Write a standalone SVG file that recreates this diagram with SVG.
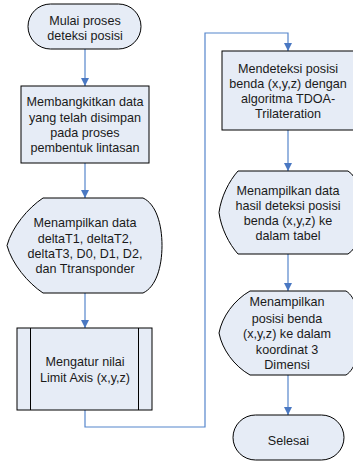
<svg xmlns="http://www.w3.org/2000/svg" width="353" height="462" viewBox="0 0 353 462">
<style>
.shape{fill:#E6ECF6;stroke:#000;stroke-width:1}
.inner{fill:none;stroke:#000;stroke-width:1}
.conn{fill:none;stroke:#5585CC;stroke-width:1.2}
text{font-family:"Liberation Sans",Arial,sans-serif;font-size:12.6px;fill:#1a1a1a;text-anchor:middle}
</style>
<defs>
<marker id="arr" markerUnits="userSpaceOnUse" markerWidth="10" markerHeight="10" refX="8" refY="4" orient="auto">
<path d="M0,0 L8,4 L0,8 Z" fill="#4A78C2"/>
</marker>
</defs>
<rect width="353" height="462" fill="#fff"/>
<g id="connectors">
<path class="conn" d="M85,49 V86" marker-end="url(#arr)"/>
<path class="conn" d="M85,163 V198" marker-end="url(#arr)"/>
<path class="conn" d="M85,293 V328" marker-end="url(#arr)"/>
<path class="conn" d="M85,410 V427 H205 V33 H288 V51" marker-end="url(#arr)"/>
<path class="conn" d="M288,130 V171" marker-end="url(#arr)"/>
<path class="conn" d="M288,254 V291" marker-end="url(#arr)"/>
<path class="conn" d="M288,375 V415" marker-end="url(#arr)"/>
</g>
<g id="start">
<rect class="shape" x="28" y="4" width="113" height="45" rx="22.5"/>
<text x="85" y="24.5">Mulai proses</text>
<text x="85" y="39.5">deteksi posisi</text>
</g>
<g id="generate">
<rect class="shape" x="21" y="86" width="128" height="77"/>
<text x="85" y="106">Membangkitkan data</text>
<text x="85" y="121.5">yang telah disimpan</text>
<text x="85" y="136.5">pada proses</text>
<text x="85" y="152">pembentuk lintasan</text>
</g>
<g id="display1">
<path class="shape" d="M43,198 H143 C156,204 162,224 162,245.5 C162,267 156,287 143,293 H43 C28,283 12,264 7,245.5 C12,227 28,208 43,198 Z"/>
<text x="85" y="227">Menampilkan data</text>
<text x="85" y="242.5">deltaT1, deltaT2,</text>
<text x="85" y="257.5">deltaT3, D0, D1, D2,</text>
<text x="85" y="273">dan Ttransponder</text>
</g>
<g id="limit">
<rect class="shape" x="17" y="328" width="135" height="82"/>
<line class="inner" x1="30.5" y1="328" x2="30.5" y2="410"/>
<line class="inner" x1="138.5" y1="328" x2="138.5" y2="410"/>
<text x="85" y="366">Mengatur nilai</text>
<text x="85" y="381.5">Limit Axis (x,y,z)</text>
</g>
<g id="detect">
<rect class="shape" x="222" y="51" width="134" height="79"/>
<text x="288" y="72.5">Mendeteksi posisi</text>
<text x="288" y="87.5">benda (x,y,z) dengan</text>
<text x="288" y="103">algoritma TDOA-</text>
<text x="288" y="118">Trilateration</text>
</g>
<g id="display2">
<path class="shape" d="M238,171 H348 C358,177 362,195 362,212.5 C362,230 358,248 348,254 H238 C229,244 221,228 219,212.5 C221,197 229,181 238,171 Z"/>
<text x="288" y="195">Menampilkan data</text>
<text x="288" y="209.5">hasil deteksi posisi</text>
<text x="288" y="225">benda (x,y,z) ke</text>
<text x="288" y="240">dalam tabel</text>
</g>
<g id="display3">
<path class="shape" d="M250,291 H346 C356,297 360,316 360,333 C360,350 356,369 346,375 H250 C234,366 222,349 219,333 C222,317 234,300 250,291 Z"/>
<text x="287" y="306">Menampilkan</text>
<text x="287" y="323">posisi benda</text>
<text x="287" y="338">(x,y,z) ke dalam</text>
<text x="287" y="353.5">koordinat 3</text>
<text x="287" y="368.5">Dimensi</text>
</g>
<g id="end">
<rect class="shape" x="233" y="415" width="111" height="45" rx="22.5"/>
<text x="288.5" y="444.5">Selesai</text>
</g>
</svg>
